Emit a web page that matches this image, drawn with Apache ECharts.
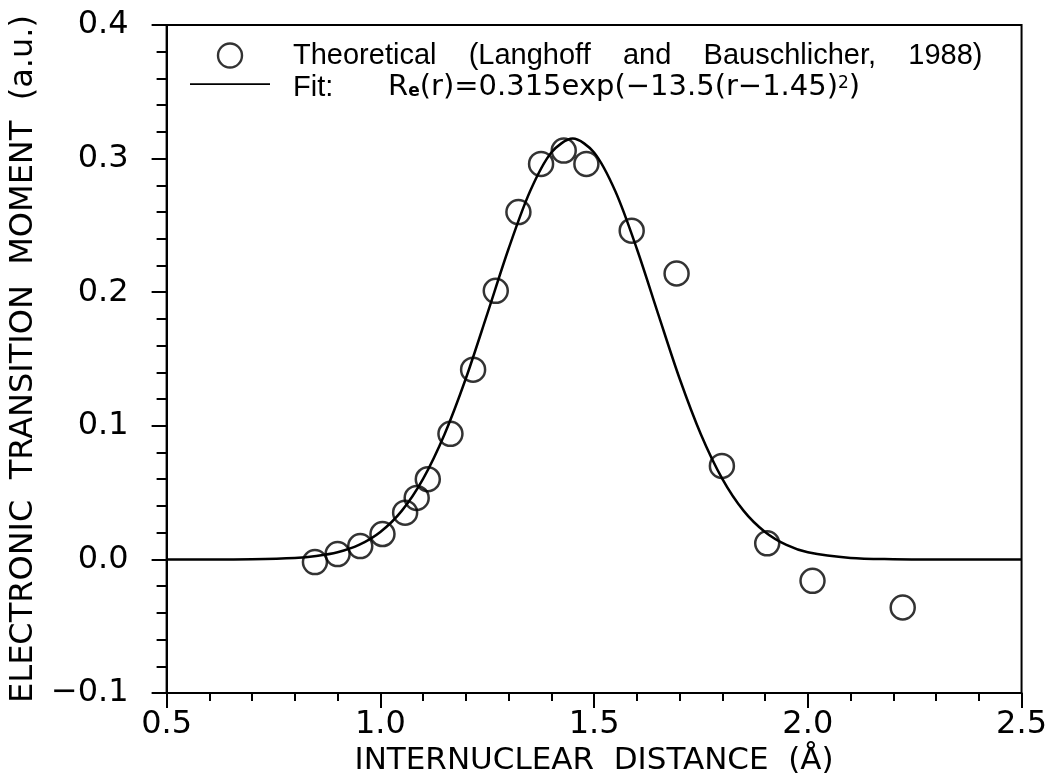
<!DOCTYPE html>
<html>
<head>
<meta charset="utf-8">
<script src="https://cdn.jsdelivr.net/npm/echarts@6/dist/echarts.min.js"></script>
<style>
  html, body { margin: 0; padding: 0; background: #fff; }
  #chart { width: 1050px; height: 782px; }
</style>
</head>
<body>
<div id="chart"></div>
<script>
// theoretical points (r in Angstrom, moment in a.u.)
const theoryR = [0.847, 0.900, 0.953, 1.005, 1.058, 1.085, 1.111, 1.164, 1.217, 1.270,
                 1.323, 1.376, 1.429, 1.482, 1.588, 1.693, 1.799, 1.905, 2.011, 2.222];
const theoryM = [-0.002, 0.004, 0.010, 0.019, 0.035, 0.046, 0.060, 0.094, 0.142, 0.201,
                 0.260, 0.296, 0.306, 0.296, 0.246, 0.214, 0.070, 0.012, -0.016, -0.036];

// fit curve
const fitR = [0.5, 0.6, 0.7, 0.8, 0.85, 0.9, 0.95, 1.0, 1.05, 1.1, 1.15, 1.2, 1.25, 1.3, 1.35,
              1.4, 1.45, 1.5, 1.55, 1.6, 1.65, 1.7, 1.75, 1.8, 1.85, 1.9, 1.95, 2.0, 2.1, 2.2, 2.3, 2.5];
const fitM = [0.0, 0.0, 0.0002, 0.0011, 0.0025, 0.0053, 0.0108, 0.0205, 0.0363, 0.0603, 0.0935,
              0.1354, 0.1836, 0.2325, 0.2753, 0.3045, 0.315, 0.3045, 0.2753, 0.2325, 0.1836,
              0.1354, 0.0935, 0.0603, 0.0363, 0.0205, 0.0108, 0.0053, 0.0011, 0.0002, 0.0, 0.0];

const xTicks = [0.5, 1.0, 1.5, 2.0, 2.5];
const yTicks = [-0.1, 0.0, 0.1, 0.2, 0.3, 0.4];

const theoryName = 'Theoretical    (Langhoff    and    Bauschlicher,    1988)';
const font = 'DejaVu Sans';
const legendFont = 'Liberation Sans';
const ink = '#000';

// line-only legend icon (dots at top/bottom keep the box 80x24)
const lineIcon = 'path://M0,0L0.01,0L0.01,0.01Z M0,7.7L80,7.7L80,9.5L0,9.5Z M0,23.99L0.01,23.99L0.01,24Z';

const chart = echarts.init(document.getElementById('chart'));

chart.setOption({
  backgroundColor: '#fff',
  animation: false,
  grid: {
    left: 166, right: 23, top: 25, bottom: 89,
    show: true, borderColor: ink, borderWidth: 2, backgroundColor: 'transparent'
  },
  legend: {
    orient: 'vertical',
    left: 185, top: 36,
    itemWidth: 80, itemHeight: 24, itemGap: 1,
    textStyle: {
      fontFamily: legendFont, fontSize: 29, color: ink, padding: [0, 0, 0, 18], lineHeight: 25,
      rich: {
        t: { fontFamily: legendFont, fontSize: 29, color: ink, lineHeight: 25 },
        f: { fontFamily: legendFont, fontSize: 29, color: ink, width: 95, lineHeight: 25 },
        m: { fontFamily: font, fontSize: 29, color: ink, lineHeight: 25 },
        sub: { fontFamily: font, fontSize: 17, fontWeight: 'bold', color: ink, lineHeight: 13, verticalAlign: 'bottom', padding: [12, 0, 0, 0] },
        sup: { fontFamily: font, fontSize: 17, color: ink, lineHeight: 13, verticalAlign: 'top', padding: [0, 0, 12, 0] }
      }
    },
    formatter: name => {
      if (name === 'Fit') {
        return '{f|Fit:}{m|R}{sub|e}{m|(r)=0.315exp(\u221213.5(r\u22121.45)}{sup|2}{m|)}';
      }
      return '{t|' + name + '}';
    },
    data: [
      { name: theoryName, icon: 'circle', itemStyle: { color: '#fff', borderColor: ink, borderWidth: 2.4 } },
      { name: 'Fit', icon: lineIcon, itemStyle: { color: ink, borderWidth: 0 } }
    ]
  },
  xAxis: {
    type: 'value', min: 0.5, max: 2.5, interval: 0.5,
    name: 'INTERNUCLEAR  DISTANCE  (\u00C5)',
    nameLocation: 'middle', nameGap: 52,
    nameTextStyle: { fontFamily: font, fontSize: 31, color: ink },
    axisLine: { show: true, onZero: false, lineStyle: { color: ink, width: 2 } },
    axisTick: { show: true, inside: false, length: 15, lineStyle: { color: ink, width: 2 } },
    minorTick: { show: true, splitNumber: 5, length: 8, lineStyle: { color: ink, width: 2 } },
    axisLabel: {
      fontFamily: font, fontSize: 32, color: ink, margin: 16,
      formatter: v => xTicks.includes(v) ? v.toFixed(1) : ''
    },
    splitLine: { show: false }
  },
  yAxis: {
    type: 'value', min: -0.1, max: 0.4, interval: 0.1,
    name: 'ELECTRONIC  TRANSITION  MOMENT  (a.u.)',
    nameLocation: 'middle', nameGap: 122,
    nameTextStyle: { fontFamily: font, fontSize: 32, color: ink },
    axisLine: { show: true, onZero: false, lineStyle: { color: ink, width: 2 } },
    axisTick: { show: true, inside: false, length: 15, lineStyle: { color: ink, width: 2 } },
    minorTick: { show: true, splitNumber: 5, length: 10, lineStyle: { color: ink, width: 2 } },
    axisLabel: {
      fontFamily: font, fontSize: 32, color: ink, margin: 38,
      formatter: v => {
        const t = yTicks.find(k => Math.abs(k - v) < 1e-9);
        if (t === undefined) return '';
        return t < 0 ? '\u2212' + Math.abs(t).toFixed(1) : t.toFixed(1);
      }
    },
    splitLine: { show: false }
  },
  series: [
    {
      name: 'Fit',
      type: 'line',
      data: fitR.map((r, i) => [r, fitM[i]]),
      smooth: 0.3,
      showSymbol: false,
      symbol: 'none',
      lineStyle: { color: ink, width: 2.5 },
      itemStyle: { color: ink },
      z: 2
    },
    {
      name: theoryName,
      type: 'scatter',
      data: theoryR.map((r, i) => [r, theoryM[i]]),
      symbol: 'circle',
      symbolSize: 24,
      itemStyle: { color: 'rgba(0,0,0,0)', borderColor: ink, borderWidth: 2.5 },
      z: 3
    }
  ]
});
</script>
</body>
</html>
